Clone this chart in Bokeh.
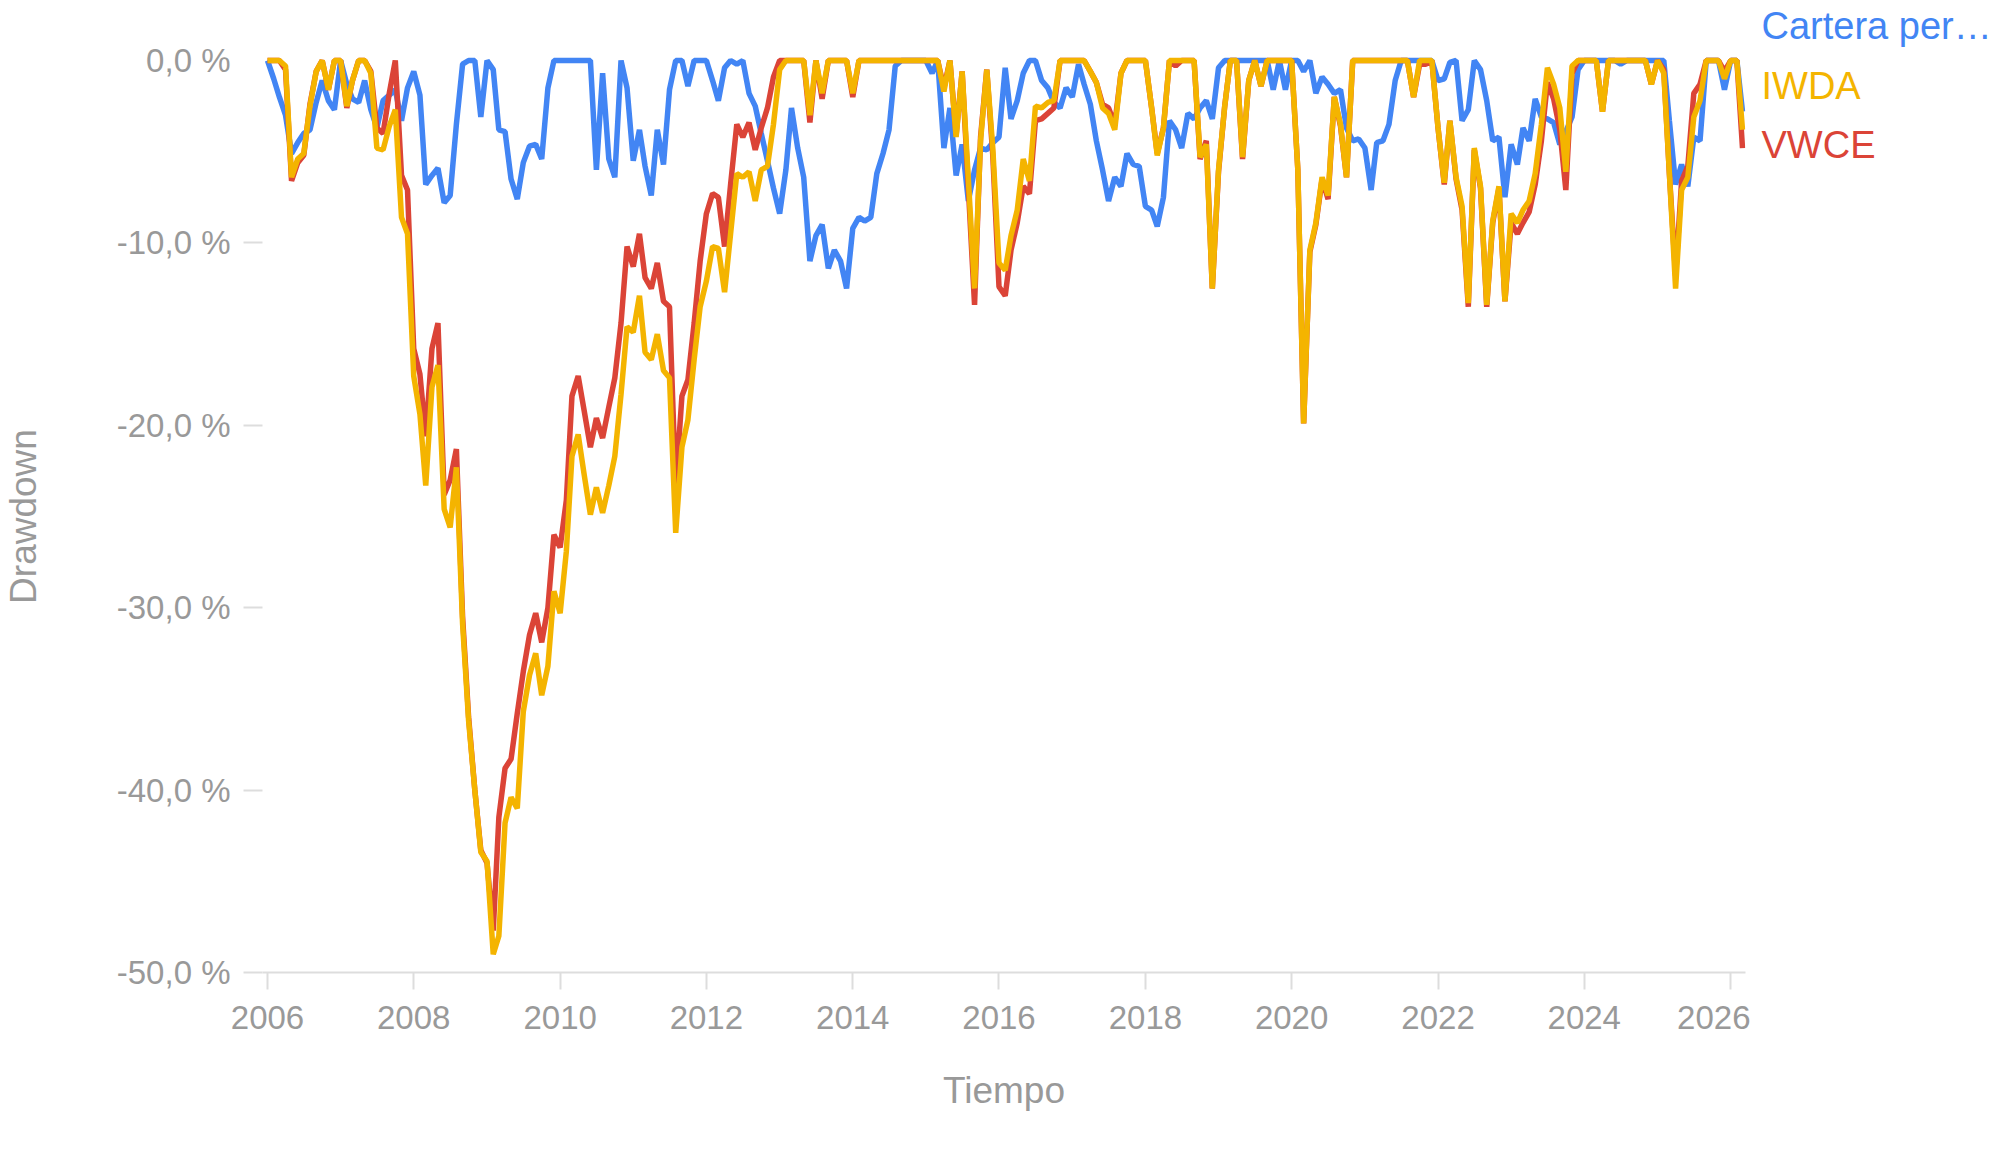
import math
from datetime import datetime
import pandas as pd
from bokeh.plotting import figure
from bokeh.layouts import row
from bokeh.models import FixedTicker, Range1d, DatetimeTickFormatter
from bokeh.core.properties import value
from bokeh.embed import file_html
from bokeh.resources import INLINE

# ---------------- data (monthly drawdown, %) ----------------
months = pd.date_range("2006-01-01", periods=243, freq="MS")

series_names = ["Cartera per…", "IWDA", "VWCE"]

cartera = [
    0.0, -1.0, -2.0, -3.0, -5.1, -4.5, -4.0, -3.8, -2.3, -1.1, -2.2, -2.7,      # 2006
    0.0, -1.3, -2.1, -2.3, -1.1, -2.7, -3.7, -2.2, -1.9, -1.6, -3.3, -1.5,      # 2007
    -0.6, -1.9, -6.8, -6.3, -5.9, -7.8, -7.4, -3.5, -0.2, 0.0, 0.0, -3.1,       # 2008
    0.0, -0.5, -3.8, -3.9, -6.5, -7.6, -5.6, -4.7, -4.6, -5.4, -1.5, 0.0,       # 2009
    0.0, 0.0, 0.0, 0.0, 0.0, 0.0, -6.0, -0.7, -5.4, -6.4, 0.0, -1.5,            # 2010
    -5.5, -3.8, -5.8, -7.4, -3.8, -5.7, -1.6, 0.0, 0.0, -1.4, 0.0, 0.0,         # 2011
    0.0, -1.1, -2.2, -0.4, 0.0, -0.2, 0.0, -1.8, -2.5, -4.0, -5.5, -7.0,        # 2012
    -8.4, -6.0, -2.6, -4.8, -6.4, -11.0, -9.6, -9.0, -11.4, -10.4, -11.0, -12.5,  # 2013
    -9.2, -8.6, -8.8, -8.6, -6.2, -5.1, -3.8, -0.3, 0.0, 0.0, 0.0, 0.0,         # 2014
    0.0, -0.7, 0.0, -4.8, -2.6, -6.3, -4.6, -7.7, -6.0, -4.8, -4.9, -4.5,       # 2015
    -4.2, -0.4, -3.2, -2.2, -0.7, 0.0, 0.0, -1.1, -1.5, -2.3, -2.6, -1.5,       # 2016
    -2.0, -0.2, -1.3, -2.4, -4.4, -6.0, -7.7, -6.4, -6.9, -5.1, -5.7, -5.8,     # 2017
    -8.0, -8.2, -9.1, -7.5, -3.3, -3.8, -4.8, -2.9, -3.2, -2.6, -2.2, -3.2,     # 2018
    -0.4, 0.0, 0.0, 0.0, 0.0, 0.0, 0.0, 0.0, 0.0, -1.6, 0.0, -1.6,              # 2019
    0.0, 0.0, -0.6, 0.0, -1.8, -0.9, -1.3, -1.8, -1.6, -3.7, -4.4, -4.3,        # 2020
    -4.8, -7.1, -4.5, -4.4, -3.5, -1.1, 0.0, 0.0, 0.0, 0.0, 0.0, 0.0,           # 2021
    -1.1, -1.0, -0.1, 0.0, -3.3, -2.7, 0.0, -0.5, -2.2, -4.4, -4.2, -7.5,       # 2022
    -4.6, -5.7, -3.7, -4.4, -2.1, -3.1, -3.2, -3.4, -4.6, -3.9, -3.1, -0.5,     # 2023
    0.0, 0.0, 0.0, 0.0, 0.0, 0.0, -0.2, 0.0, 0.0, 0.0, 0.0, 0.0,                # 2024
    0.0, 0.0, -3.3, -6.8, -5.7, -6.9, -4.2, -4.4, 0.0, 0.0, 0.0, -1.6,          # 2025
    0.0, 0.0, -2.8,                                                             # 2026
]

iwda = [
    0.0, 0.0, 0.0, -0.3, -6.4, -5.4, -5.1, -2.5, -0.6, 0.0, -1.6, 0.0,
    0.0, -2.5, -1.1, 0.0, 0.0, -0.7, -4.8, -4.9, -3.6, -2.7, -8.6, -9.5,
    -17.3, -19.4, -23.3, -17.9, -16.7, -24.6, -25.6, -22.3, -30.9, -36.2, -40.0, -43.4,
    -43.9, -49.0, -48.0, -41.8, -40.4, -41.0, -35.7, -33.7, -32.5, -34.8, -33.2, -29.1,
    -30.3, -26.9, -21.7, -20.5, -22.7, -24.9, -23.4, -24.8, -23.3, -21.7, -18.3, -14.6,
    -14.9, -12.9, -16.0, -16.4, -15.0, -17.0, -17.4, -25.9, -21.2, -19.7, -16.4, -13.5,
    -12.1, -10.2, -10.3, -12.7, -9.5, -6.2, -6.4, -6.1, -7.7, -6.0, -5.8, -3.5,
    -0.5, 0.0, 0.0, 0.0, 0.0, -3.0, 0.0, -1.8, 0.0, 0.0, 0.0, 0.0,
    -1.8, 0.0, 0.0, 0.0, 0.0, 0.0, 0.0, 0.0, 0.0, 0.0, 0.0, 0.0,
    0.0, 0.0, 0.0, -1.7, 0.0, -4.2, -0.6, -6.5, -12.5, -4.4, -0.5, -4.8,
    -11.1, -11.5, -9.6, -8.2, -5.4, -6.6, -2.5, -2.6, -2.3, -2.2, 0.0, 0.0,
    0.0, 0.0, 0.0, -0.6, -1.2, -2.6, -2.9, -3.8, -0.7, 0.0, 0.0, 0.0,
    0.0, -2.6, -5.2, -3.7, 0.0, 0.0, 0.0, 0.0, 0.0, -5.3, -4.6, -12.5,
    -6.0, -2.5, 0.0, 0.0, -5.3, -1.1, 0.0, -1.4, 0.0, 0.0, 0.0, 0.0,
    0.0, -6.0, -19.9, -10.4, -8.9, -6.4, -7.4, -2.0, -3.5, -6.4, 0.0, 0.0,
    0.0, 0.0, 0.0, 0.0, 0.0, 0.0, 0.0, 0.0, -2.0, 0.0, 0.0, 0.0,
    -3.7, -6.7, -3.3, -6.4, -8.0, -13.3, -4.8, -6.9, -13.4, -8.8, -6.9, -13.2,
    -8.4, -8.9, -8.2, -7.7, -6.2, -3.5, -0.4, -1.3, -2.6, -6.1, -0.3, 0.0,
    0.0, 0.0, 0.0, -2.8, 0.0, 0.0, 0.0, 0.0, 0.0, 0.0, 0.0, -1.3,
    0.0, -0.7, -6.2, -12.5, -7.1, -6.4, -3.1, -2.2, 0.0, 0.0, 0.0, -1.0,
    0.0, 0.0, -3.8,
]

vwce = [
    0.0, 0.0, 0.0, -0.5, -6.6, -5.6, -5.2, -2.4, -0.6, 0.0, -1.6, 0.0,
    0.0, -2.6, -1.1, 0.0, 0.0, -0.6, -3.7, -4.0, -1.8, 0.0, -6.3, -7.1,
    -15.8, -17.2, -20.6, -15.8, -14.4, -23.8, -23.0, -21.3, -30.5, -36.0, -40.0, -43.3,
    -44.0, -47.7, -41.5, -38.8, -38.3, -35.8, -33.5, -31.5, -30.3, -31.9, -30.0, -26.0,
    -26.7, -24.1, -18.4, -17.3, -19.2, -21.2, -19.6, -20.7, -19.0, -17.4, -14.4, -10.2,
    -11.3, -9.5, -11.9, -12.5, -11.1, -13.2, -13.5, -23.4, -18.4, -17.5, -14.4, -11.0,
    -8.4, -7.3, -7.5, -10.2, -6.8, -3.5, -4.2, -3.4, -4.9, -3.7, -2.6, -0.9,
    0.0, 0.0, 0.0, 0.0, 0.0, -3.4, 0.0, -2.1, 0.0, 0.0, 0.0, 0.0,
    -2.0, 0.0, 0.0, 0.0, 0.0, 0.0, 0.0, 0.0, 0.0, 0.0, 0.0, 0.0,
    0.0, 0.0, 0.0, -1.5, 0.0, -4.1, -0.6, -7.0, -13.4, -4.2, -0.5, -5.2,
    -12.4, -12.9, -10.4, -8.9, -6.9, -7.3, -3.3, -3.2, -2.9, -2.6, 0.0, 0.0,
    0.0, 0.0, 0.0, -0.6, -1.2, -2.4, -2.6, -3.5, -0.7, 0.0, 0.0, 0.0,
    0.0, -2.6, -5.1, -3.7, 0.0, -0.3, 0.0, 0.0, 0.0, -5.4, -4.4, -12.5,
    -6.1, -2.5, 0.0, 0.0, -5.4, -1.1, 0.0, -1.4, 0.0, 0.0, 0.0, 0.0,
    0.0, -6.0, -19.9, -10.5, -9.0, -6.5, -7.6, -2.0, -3.6, -6.4, 0.0, 0.0,
    0.0, 0.0, 0.0, 0.0, 0.0, 0.0, 0.0, 0.0, -2.0, -0.2, -0.2, 0.0,
    -3.7, -6.8, -3.3, -6.5, -8.2, -13.5, -4.9, -7.0, -13.5, -8.9, -7.0, -13.2,
    -8.9, -9.5, -8.9, -8.3, -6.8, -4.4, -1.2, -2.1, -3.8, -7.1, -0.7, 0.0,
    0.0, 0.0, 0.0, -2.8, 0.0, 0.0, 0.0, 0.0, 0.0, 0.0, 0.0, -1.3,
    0.0, -0.5, -6.2, -11.8, -6.6, -5.8, -1.8, -1.3, 0.0, 0.0, 0.0, -0.6,
    0.0, 0.0, -4.8,
]

y_ticks = [-50, -40, -30, -20, -10, 0]
y_tick_labels = ["-50,0 %", "-40,0 %", "-30,0 %", "-20,0 %", "-10,0 %", "0,0 %"]
x_tick_years = [2006, 2008, 2010, 2012, 2014, 2016, 2018, 2020, 2022, 2024, 2026]
y_title = "Drawdown"
x_title = "Tiempo"

# ---------------- styling ----------------
FONT = "Liberation Sans"
GREY = "#999999"
RULE = "#dddddd"
COLORS = ["#4285F4", "#F4B400", "#DB4437"]

H = 1152
W_YLAB = 46
W_LEG = 245
W_MAIN = 1995 - W_YLAB - W_LEG
FRAME_LEFT = 262            # page x of the plot area's left edge
FRAME_RIGHT = 1745          # page x of the plot area's right edge
FRAME_BOTTOM = 972          # pixel row of the -50 % baseline


def panel(width):
    f = figure(width=width, height=H, output_backend="svg", toolbar_location=None,
               x_range=Range1d(0, width), y_range=Range1d(FRAME_BOTTOM, 0),
               min_border_left=0, min_border_right=0, min_border_top=0,
               min_border_bottom=H - FRAME_BOTTOM)
    f.axis.visible = False
    f.grid.visible = False
    f.outline_line_color = None
    f.background_fill_color = "white"
    f.border_fill_color = "white"
    return f


# ---------------- y-axis title panel ----------------
ylab = panel(W_YLAB)
ylab.text(x=[W_YLAB / 2], y=[516], text=[y_title], angle=math.pi / 2,
          text_color=GREY, text_font=value(FONT), text_font_size=value("37px"),
          text_align="center", text_baseline="middle")

# ---------------- main chart ----------------
p = figure(
    width=W_MAIN, height=H, x_axis_type="datetime",
    output_backend="svg", toolbar_location=None,
    x_range=Range1d(datetime(2005, 12, 7), datetime(2026, 3, 16)),
    y_range=Range1d(-50, 3.2895),
    min_border_left=FRAME_LEFT - W_YLAB,
    min_border_right=W_MAIN - (FRAME_RIGHT - W_YLAB),
    min_border_top=0, min_border_bottom=H - FRAME_BOTTOM,
)
p.outline_line_color = None
p.xgrid.visible = False
p.ygrid.visible = False
p.background_fill_color = "white"
p.border_fill_color = "white"

# lines: blue at the bottom, then red, yellow on top
p.line(months, cartera, line_color=COLORS[0], line_width=5.5)
p.line(months, vwce, line_color=COLORS[2], line_width=5.5)
p.line(months, iwda, line_color=COLORS[1], line_width=5.5)

# x axis
xt = [pd.Timestamp(year=y, month=1, day=1).timestamp() * 1000 for y in x_tick_years]
p.xaxis.ticker = FixedTicker(ticks=xt)
p.xaxis.formatter = DatetimeTickFormatter(years="%Y", months="%Y", days="%Y")
p.xaxis.axis_line_color = RULE
p.xaxis.axis_line_width = 2
p.xaxis.major_tick_line_color = RULE
p.xaxis.major_tick_line_width = 2
p.xaxis.major_tick_out = 17
p.xaxis.major_tick_in = 0
p.xaxis.minor_tick_line_color = None
p.xaxis.major_label_standoff = 16
p.xaxis.axis_label = x_title
p.xaxis.axis_label_standoff = 38

# y axis
p.yaxis.ticker = FixedTicker(ticks=y_ticks, minor_ticks=y_ticks[:-1])
p.yaxis.major_label_overrides = dict(zip(y_ticks, y_tick_labels))
p.yaxis.axis_line_color = None
p.yaxis.major_tick_line_color = None
p.yaxis.major_tick_out = 19
p.yaxis.major_tick_in = 0
p.yaxis.minor_tick_line_color = RULE
p.yaxis.minor_tick_line_width = 2
p.yaxis.minor_tick_out = 19
p.yaxis.minor_tick_in = 0
p.yaxis.major_label_standoff = 13

for ax in (p.xaxis[0], p.yaxis[0]):
    ax.major_label_text_font = FONT
    ax.major_label_text_font_size = "33px"
    ax.major_label_text_color = GREY
    ax.axis_label_text_font = FONT
    ax.axis_label_text_font_size = "37px"
    ax.axis_label_text_font_style = "normal"
    ax.axis_label_text_color = GREY

# ---------------- legend panel (coloured series names, right of the chart) ----------------
leg = panel(W_LEG)
legend_x = [11, 11, 11]
legend_y = [25, 85, 144]
leg.text(x=legend_x, y=legend_y, text=series_names, text_color=COLORS,
         text_font=value(FONT), text_font_size=value("38px"),
         text_baseline="middle", text_align="left")

layout = row(ylab, p, leg, spacing=0)
open("out.html", "w").write(file_html(layout, INLINE))
